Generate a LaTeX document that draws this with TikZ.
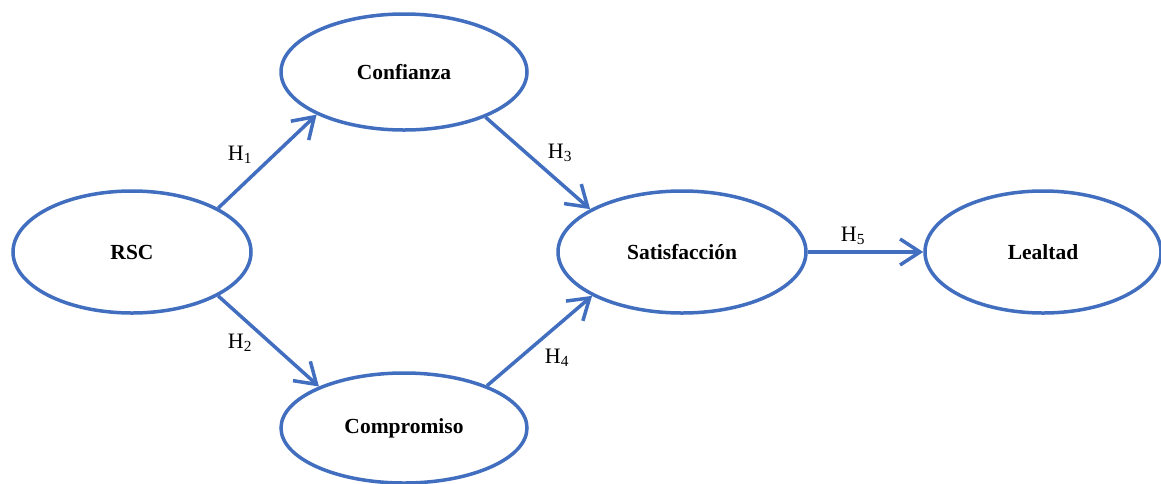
\documentclass[tikz,border=0pt]{standalone}
\usepackage{fontspec}
\setmainfont{Liberation Serif}
\usetikzlibrary{shapes.geometric,arrows.meta}
\definecolor{lineblue}{RGB}{65,110,190}
\tikzset{
  latent/.style={ellipse, draw=lineblue, line width=3.5pt, fill=white, inner sep=0pt,
    font=\fontsize{21.5}{25}\selectfont\bfseries},
  path/.style={draw=lineblue, line width=3.5pt,
    -{Straight Barb[length=20pt, width=26pt, line width=3.5pt]}},
  hyp/.style={font=\fontsize{22}{26}\selectfont, inner sep=0pt}
}
\begin{document}
\begin{tikzpicture}[x=1pt,y=-1pt]
\useasboundingbox (0,0) rectangle (1161,483);
\node[latent, minimum width=238pt, minimum height=122pt] (rsc) at (132,252) {RSC};
\node[latent, minimum width=246pt, minimum height=116pt] (conf) at (404,72) {Confianza};
\node[latent, minimum width=246pt, minimum height=110pt] (comp) at (404,428) {Compromiso};
\node[latent, minimum width=248pt, minimum height=122pt] (sat) at (682,252) {Satisfacción};
\node[latent, minimum width=236pt, minimum height=122pt] (leal) at (1043,252) {Lealtad};

\draw[path] (rsc.27) -- (conf.206);
\draw[path] (rsc.-27) -- (comp.154);
\draw[path] (conf.-29) -- (sat.155);
\draw[path] (comp.27) -- (sat.206);
\draw[path] (sat.east) -- (leal.west);

\node[hyp] (h1) at (240,155) {H\textsubscript{1}};
\node[hyp] (h2) at (240,343) {H\textsubscript{2}};
\node[hyp] (h3) at (560,153) {H\textsubscript{3}};
\node[hyp] (h4) at (557,358) {H\textsubscript{4}};
\node[hyp] (h5) at (853,236) {H\textsubscript{5}};
\end{tikzpicture}
\end{document}
